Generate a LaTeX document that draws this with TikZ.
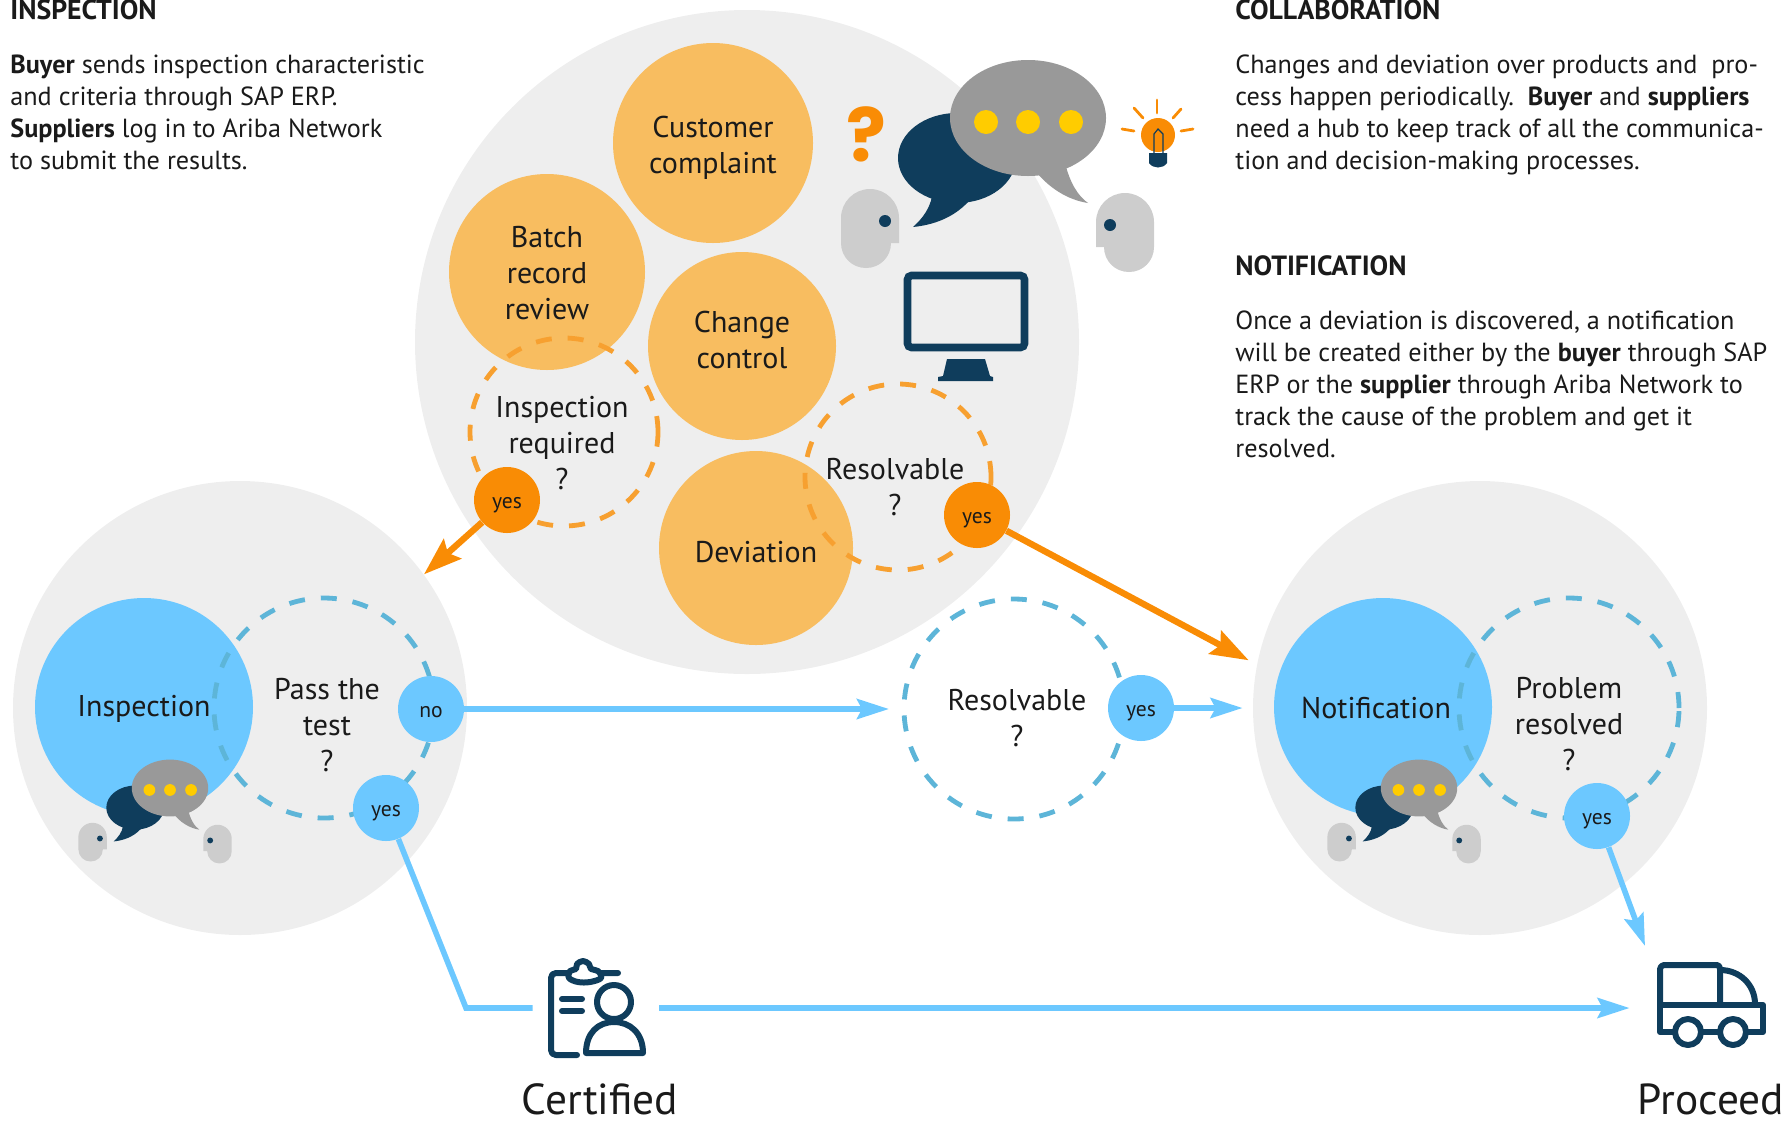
\documentclass[tikz,border=0pt]{standalone}
\usepackage{fontspec}
\setmainfont{PT Sans}
\newfontfamily\qfont{Poppins}
\usetikzlibrary{arrows.meta}
\definecolor{bggray}{HTML}{EEEEEE}
\definecolor{softorange}{HTML}{F8BD60}
\definecolor{strongorange}{HTML}{F98C05}
\definecolor{dashorange}{HTML}{F7A030}
\definecolor{skyblue}{HTML}{6CC8FF}
\definecolor{dashblue}{HTML}{5DB5D8}
\definecolor{navy}{HTML}{0F3D5C}
\definecolor{bubblegray}{HTML}{999999}
\definecolor{headgray}{HTML}{CDCDCD}
\definecolor{dotyellow}{HTML}{FFCC00}
\definecolor{inktext}{HTML}{1A1A1A}
\tikzset{
  disc/.style={circle,inner sep=0pt,text=inktext,align=center},
  bodytext/.style={anchor=north west,inner sep=0pt,align=left,text=inktext,font=\fontsize{13.1}{16}\selectfont},
  headtext/.style={anchor=north west,inner sep=0pt,text=inktext,font=\fontsize{13.9}{16}\selectfont\bfseries},
  circletext/.style={inner sep=0pt,align=center,text=inktext,font=\fontsize{15}{18.1}\selectfont},
  smalltext/.style={font=\fontsize{10.8}{12}\selectfont,text height=8pt,text depth=0pt},
  bigtext/.style={inner sep=0pt,text=inktext,font=\fontsize{21.7}{24}\selectfont},
  dashring/.style={circle,inner sep=0pt,line width=2.4pt,dash pattern=on 8pt off 8pt},
  orangeflow/.style={draw=strongorange,line width=3.2pt,-{Stealth[length=19pt,width=13pt,inset=3pt]}},
  blueflow/.style={draw=skyblue,line width=2.8pt,-{Stealth[length=16pt,width=10pt,inset=2.5pt]}},
  blueline/.style={draw=skyblue,line width=2.8pt},
  iconline/.style={draw=navy,line width=3pt,line cap=round,line join=round},
  talkgroup/.pic={
    \fill[navy] (-71,40) ellipse [x radius=59,y radius=45];
    \fill[navy] (-96,78) -- (-60,84) .. controls (-75,100) and (-95,107) .. (-115,109) .. controls (-105,100) and (-98,90) .. (-96,78) -- cycle;
    \fill[bubblegray] (0,0) ellipse [x radius=78,y radius=58];
    \fill[bubblegray] (5,50) -- (37,45) .. controls (42,65) and (50,78) .. (60,85) .. controls (40,82) and (20,70) .. (5,50) -- cycle;
    \foreach \dx in {-42,0,43} \fill[dotyellow] (\dx,4) circle [radius=12];
    \fill[headgray] (-187,100) .. controls (-187,84) and (-174,71) .. (-158,71) .. controls (-142,71) and (-129,84) .. (-129,100) -- (-129,125) -- (-137,125) .. controls (-137,139) and (-148,150) .. (-162,150) .. controls (-176,150) and (-187,139) .. (-187,125) -- cycle;
    \fill[navy] (-143,103) circle [radius=6];
    \fill[headgray] (126,104) .. controls (126,88) and (113,75) .. (97,75) .. controls (81,75) and (68,88) .. (68,104) -- (68,129) -- (76,129) .. controls (76,143) and (87,154) .. (101,154) .. controls (115,154) and (126,143) .. (126,129) -- cycle;
    \fill[navy] (82,107) circle [radius=6];
  }
}
\begin{document}
\begin{tikzpicture}[x=0.5pt,y=-0.5pt]
\useasboundingbox (0,0) rectangle (1791,1120);
% background discs
\node[disc,fill=bggray,minimum size=332pt] (hub) at (747,342) {};
\node[disc,fill=bggray,minimum size=227pt] (leftgray) at (240,708) {};
\node[disc,fill=bggray,minimum size=227pt] (rightgray) at (1480,708) {};
% top orange discs
\node[disc,fill=softorange,minimum size=100pt] (complaint) at (713,143) {};
\node[disc,fill=softorange,minimum size=98pt] (batch) at (547,272) {};
\node[disc,fill=softorange,minimum size=94pt] (change) at (742,346) {};
\node[disc,fill=softorange,minimum size=97pt] (deviation) at (756,548) {};
\node[dashring,draw=dashorange,minimum size=94pt] (inspring) at (564,432) {};
\node[dashring,draw=dashorange,minimum size=93pt] (resring) at (898,477) {};
\node[circletext] (complainttext) at (713,148) {Customer\\complaint};
\node[circletext] (batchtext) at (547,273) {Batch\\record\\review};
\node[circletext] (changetext) at (742,340) {Change\\control};
\node[circletext] (deviationtext) at (756,552) {Deviation};
\node[circletext] (insptext) at (562,443) {Inspection\\required\\?};
\node[circletext] (restext) at (895,487) {Resolvable\\?};
% blue discs
\node[disc,fill=skyblue,minimum size=109pt] (inspdisc) at (144,707) {};
\node[circletext] (inspdisctext) at (144,709) {Inspection};
\node[dashring,draw=dashblue,minimum size=110pt] (passring) at (324,708) {};
\node[circletext] (passtext) at (327,725) {Pass the\\test\\?};
\node[dashring,draw=dashblue,minimum size=110pt] (midring) at (1014,709) {};
\node[circletext] (midtext) at (1017,718) {Resolvable\\?};
\node[disc,fill=skyblue,minimum size=109pt] (notifdisc) at (1383,707) {};
\node[circletext] (notiftext) at (1376,708) {Notification};
\node[dashring,draw=dashblue,minimum size=110pt] (probring) at (1569,708) {};
\node[circletext] (probtext) at (1569,724) {Problem\\resolved\\?};
% speech groups
\pic at (1028,118) {talkgroup};
\pic[scale=0.49] at (170,788) {talkgroup};
\pic[scale=0.49] at (1419,788) {talkgroup};
% yes / no discs
\node[disc,fill=strongorange,minimum size=33pt,smalltext] (yesinsp) at (507,500) {yes};
\node[disc,fill=strongorange,minimum size=33pt,smalltext] (yesres) at (977,515) {yes};
\node[disc,fill=skyblue,minimum size=33pt,smalltext] (nopass) at (431,709) {no};
\node[disc,fill=skyblue,minimum size=33pt,smalltext] (yespass) at (386,808) {yes};
\node[disc,fill=skyblue,minimum size=33pt,smalltext] (yesmid) at (1141,708) {yes};
\node[disc,fill=skyblue,minimum size=33pt,smalltext] (yesprob) at (1597,816) {yes};
% question mark, bulb, monitor
\node[inner sep=0pt,text=strongorange,font=\qfont\fontsize{37}{40}\selectfont\bfseries] (qmark) at (866,134) {?};
\draw[draw=navy,line width=3.8pt,rounded corners=2pt] (907.5,275.5) rectangle (1024.5,347.5);
\fill[navy] (947,359) -- (985,359) -- (990,376) -- (993,377) -- (993,381) -- (938,381) -- (938,377) -- (943,376) -- cycle;
\fill[strongorange] (1158,135) circle [radius=17];
\fill[navy] (1149,153) -- (1167,153) -- (1167,163) .. controls (1163,169) and (1153,169) .. (1149,163) -- cycle;
\draw[navy,line width=0.6pt] (1154,155) -- (1154,134) -- (1158,129) -- (1163,134) -- (1163,155);
\foreach \xa/\ya/\xb/\yb in {1157/100/1157/113,1134/108/1143/118,1181/109/1173/118,1122/129/1134/131,1193/129/1181/131}
  \draw[strongorange,line width=1.4pt,line cap=round] (\xa,\ya) -- (\xb,\yb);
% clipboard icon
\node[minimum width=63pt,minimum height=50pt,inner sep=0pt] (cert) at (596,1008) {};
\draw[iconline] (618,973) -- (556,973) .. controls (553,973) and (551,975) .. (551,978) -- (551,1050) .. controls (551,1053) and (553,1055) .. (556,1055) -- (577,1055);
\draw[iconline,fill=white] plot[smooth cycle,tension=0.6] coordinates {(569,978) (570,971) (576,969) (577,964) (583,961) (589,964) (591,969) (598,971) (601,978) (590,982) (578,982)};
\draw[iconline] (562,999) -- (582,999) (562,1011) -- (582,1011);
\draw[iconline] (614,1002) circle [radius=17];
\draw[iconline] (586,1053) -- (643,1053) .. controls (643,1033) and (630,1022) .. (614,1022) .. controls (598,1022) and (586,1033) .. (586,1053) -- cycle;
\node[bigtext] (certtext) at (600,1099) {Certified};
% truck icon
\node[minimum width=82pt,minimum height=45pt,inner sep=0pt] (truck) at (1712,1008) {};
\draw[iconline] (1660,1004) -- (1660,969) .. controls (1660,967) and (1662,965) .. (1664,965) -- (1717,965) .. controls (1719,965) and (1720,967) .. (1720,969) -- (1720,1004);
\draw[iconline] (1720,970) .. controls (1740,970) and (1755,985) .. (1755,1004);
\draw[iconline] (1660,1005) -- (1763,1005) -- (1763,1032) -- (1746,1032);
\draw[iconline] (1675,1032) -- (1660,1032) -- (1660,1005);
\draw[iconline] (1701,1032) -- (1720,1032);
\draw[iconline] (1688,1032) circle [radius=13];
\draw[iconline] (1733,1032) circle [radius=13];
\node[bigtext] (trucktext) at (1711,1099) {Proceed};
% connectors
\coordinate (elbow) at (466,1008);
\coordinate (truckentry) at (1645,946);
\draw[orangeflow] (yesinsp) -- (leftgray.36);
\draw[orangeflow,shorten >=4.6pt] (yesres) -- (rightgray.169);
\draw[blueflow,shorten >=6.3pt] (nopass) -- (midring);
\draw[blueflow,shorten >=5pt] (yesmid) -- (rightgray);
\draw[blueline,line join=miter] (yespass) -- (elbow) -- (cert.west);
\draw[blueflow] (cert.east) -- (truck.west);
\draw[blueflow] (yesprob) -- (truckentry);
% side texts
\node[headtext] (h1) at (10,-1) {INSPECTION};
\node[bodytext] (b1) at (10,54) {\textbf{Buyer} sends inspection characteristic\\and criteria through SAP ERP.\\\textbf{Suppliers} log in to Ariba Network\\to submit the results.};
\node[headtext] (h2) at (1235,-1) {COLLABORATION};
\node[bodytext] (b2) at (1235,54) {Changes and deviation over products and\ \ pro-\\cess happen periodically.\ \ \textbf{Buyer} and \textbf{suppliers}\\need a hub to keep track of all the communica-\\tion and decision-making processes.};
\node[headtext] (h3) at (1235,255) {NOTIFICATION};
\node[bodytext] (b3) at (1235,310) {Once a deviation is discovered, a notification\\will be created either by the \textbf{buyer} through SAP\\ERP or the \textbf{supplier} through Ariba Network to\\track the cause of the problem and get it\\resolved.};
\end{tikzpicture}
\end{document}
